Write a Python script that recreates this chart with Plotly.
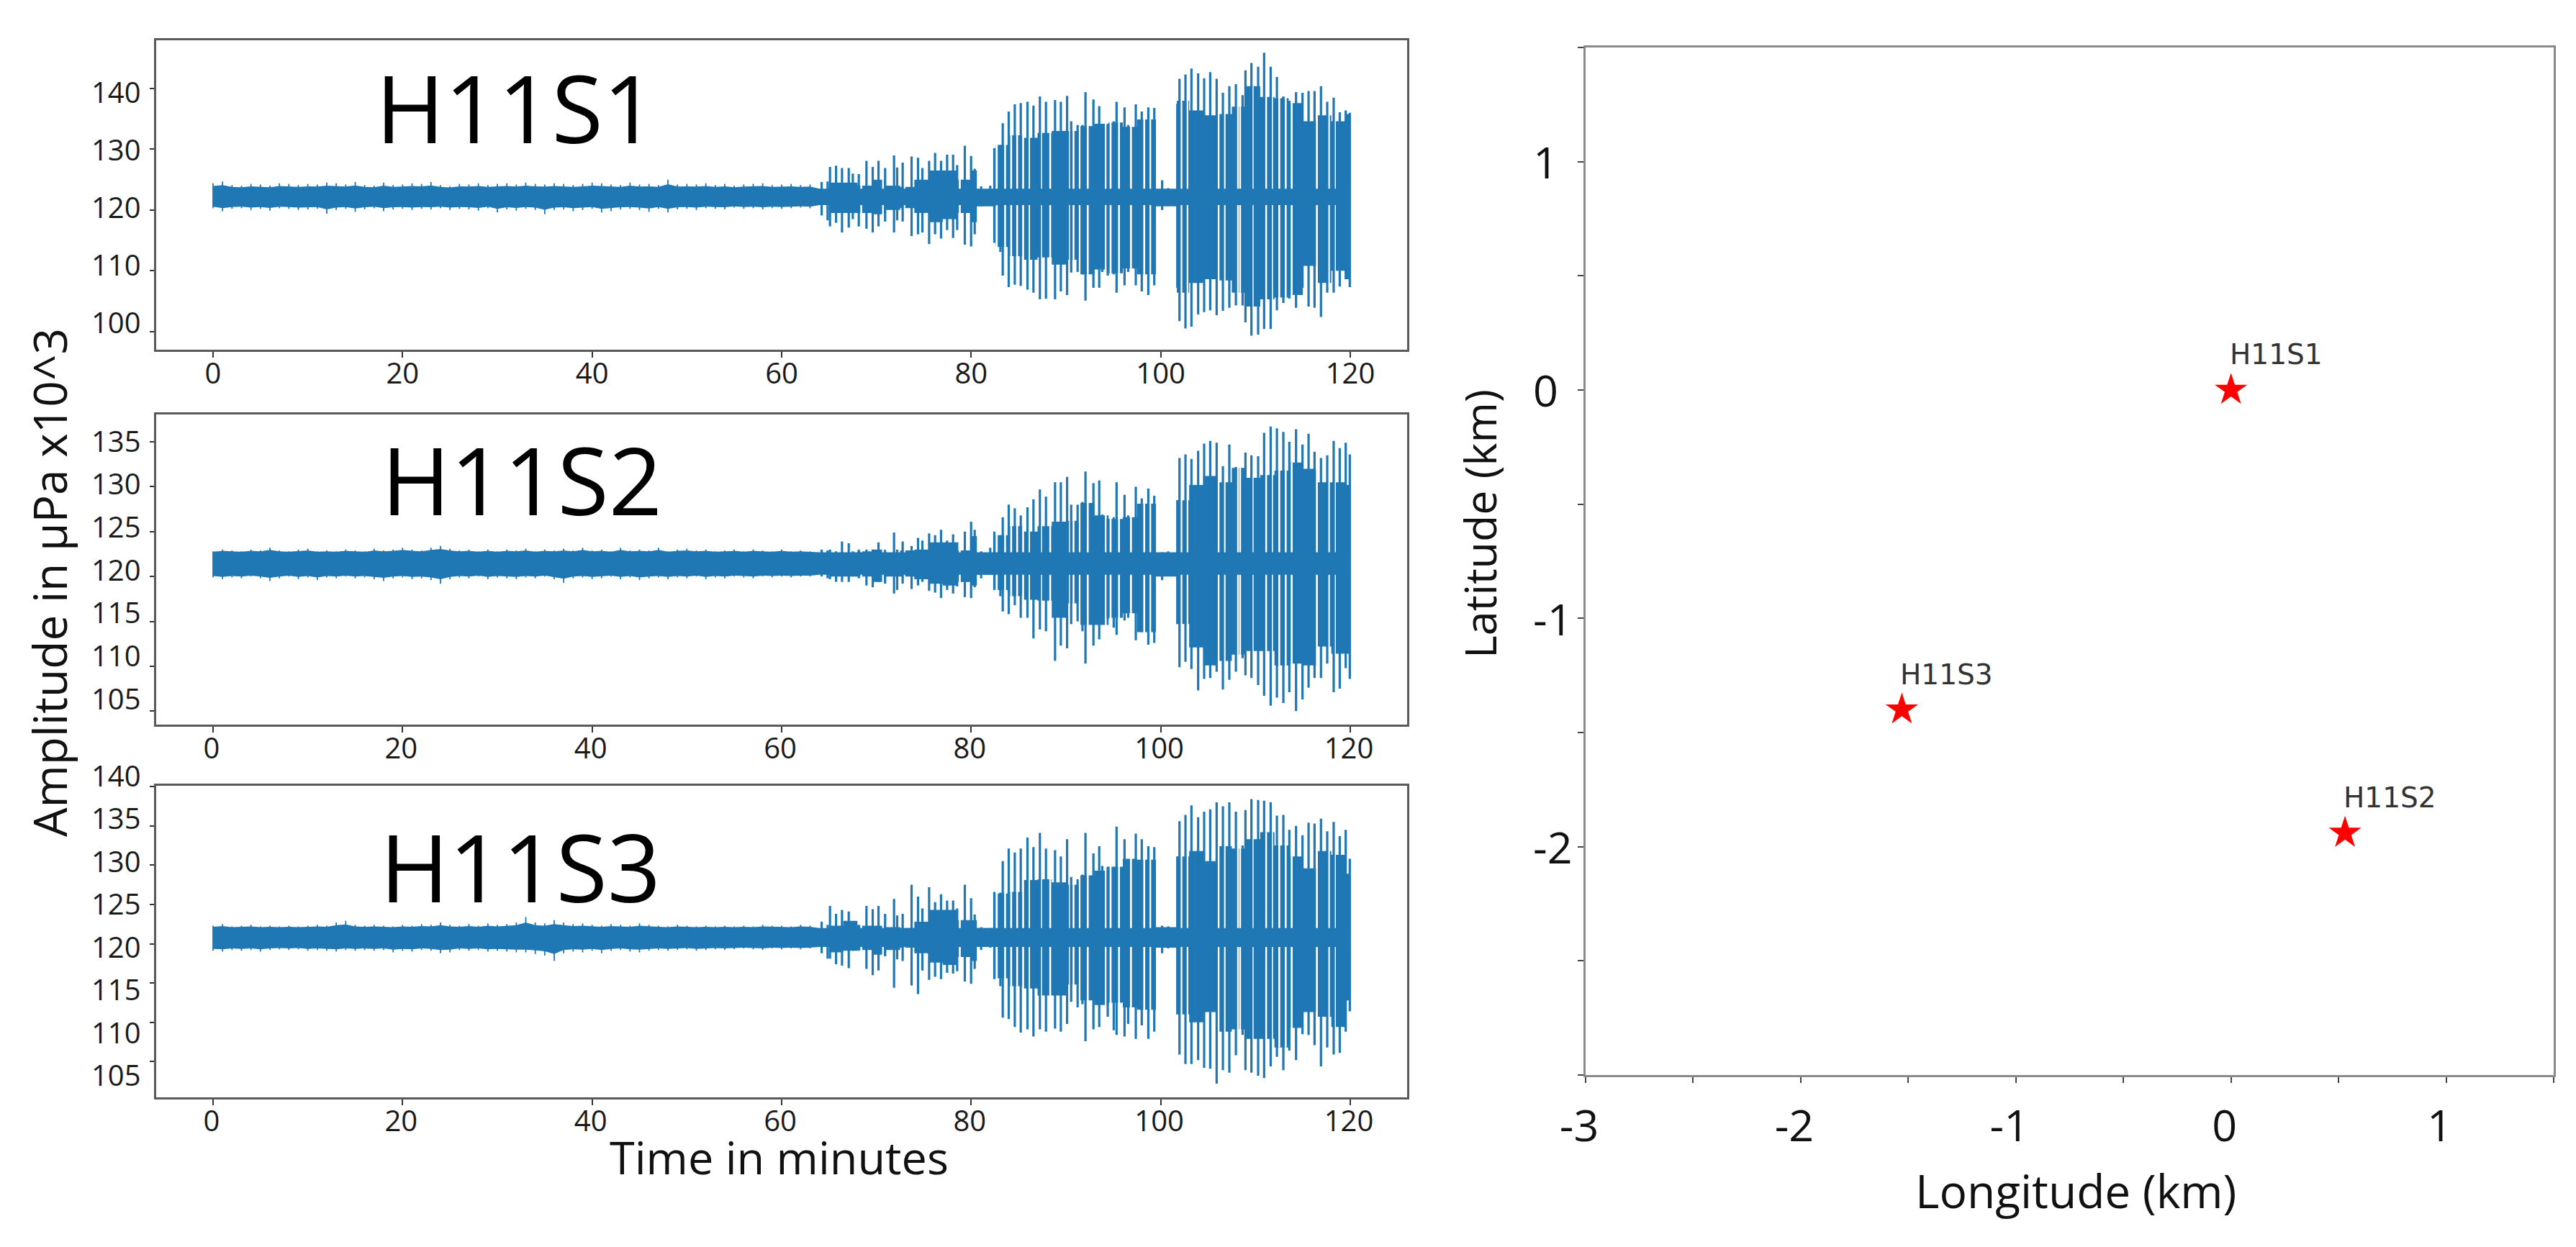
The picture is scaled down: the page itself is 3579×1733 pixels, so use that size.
import plotly.graph_objects as go

W, H = 3579, 1733
FONT = "Open Sans"
BLUE = "#1f77b4"

# ---- Shared time bases (minutes) ----
spike_t = [64.22,64.85,65.10,65.74,66.37,67.08,67.51,68.14,68.95,69.61,70.22,70.92,71.86,72.19,72.77,73.71,74.39,74.85,75.56,76.19,
           76.82,77.46,78.09,78.52,79.33,79.99,80.37,81.05,82.01,82.44,83.08,83.33,83.96,84.60,85.23,85.94,86.57,87.25,87.89,88.85,
           89.46,90.12,90.55,91.23,91.74,92.06,92.90,93.51,93.83,94.41,95.04,95.34,96.18,96.56,97.37,98.00,98.69,99.32,100.15,100.79,
           101.75,101.98,102.61,103.24,103.95,104.58,105.22,105.90,106.56,107.24,107.93,108.64,108.94,109.57,110.28,110.91,111.60,112.26,112.94,113.57,
           114.28,114.96,115.60,116.23,116.91,117.57,118.25,118.89,119.52,119.95]
block_t = [65.0,66.5,68.0,69.5,71.0,72.5,74.0,75.5,77.0,78.5,80.0,80.6,82.6,84.0,85.5,87.0,88.5,90.0,91.5,93.0,94.5,96.0,97.5,99.5,
           101.7,103.0,104.5,106.0,107.5,109.0,110.5,112.0,113.5,115.0,116.5,118.0,119.5,120.0]
gap_t = [68.4,70.7,72.95,78.8,82.70,83.58,84.22,84.85,85.48,86.11,87.38,88.34,90.42,90.80,91.43,92.30,94.20,94.71,95.60,96.86,98.26,98.89,
         102.18,102.81,106.10,106.74,108.13,108.38,109.70,111.12,111.75,112.51,113.19,113.82,116.48,117.75,118.38]
quiet_t = list(range(0, 64))

# ---- H11S1 ----
s1_peak_hi = [124.6,124.7,127.1,127.3,126.9,126.9,126.0,125.9,128.1,127.1,128.1,126.9,129.0,127.0,127.8,128.8,128.6,126.9,128.1,129.4,
              128.1,129.1,129.1,127.4,130.6,128.9,126.8,123.9,124.0,130.2,130.7,134.3,136.2,137.4,137.6,137.8,137.2,138.7,137.8,138.1,
              137.8,138.8,134.6,134.0,134.0,139.4,138.2,137.1,133.7,134.0,134.6,137.8,136.9,134.0,137.4,136.2,136.9,136.8,124.9,123.6,
              137.5,141.6,142.3,143.3,142.5,141.7,142.7,141.6,139.3,140.4,140.7,138.9,143.0,144.2,143.6,145.9,143.6,141.9,138.7,138.0,
              139.4,139.3,139.6,139.6,140.4,137.8,138.5,136.1,136.4,136.0]
s1_peak_lo = [119.1,118.3,117.3,117.9,116.3,117.1,118.5,117.3,116.9,116.3,117.3,118.1,116.3,118.3,118.1,115.7,116.0,116.3,114.4,116.0,
              115.3,116.7,115.4,116.7,114.3,114.0,116.0,120.6,120.8,114.6,113.1,109.2,107.3,107.7,107.5,106.9,106.4,105.3,105.4,105.3,
              106.6,106.0,109.7,109.8,109.4,105.1,107.2,107.2,109.8,109.2,109.4,106.4,107.6,109.8,107.6,106.6,106.0,107.6,120.0,121.0,
              107.2,101.7,100.5,100.8,102.8,103.2,103.5,102.7,103.4,103.9,104.3,104.3,101.5,99.3,99.5,100.4,100.4,103.5,104.7,105.4,
              103.9,107.2,104.1,103.9,102.4,106.4,106.4,107.4,108.6,107.3]
s1_block_hi = [124.5,124.5,124.0,125.0,124.0,123.8,125.0,126.5,126.5,125.0,126.5,123.4,130.7,132.3,131.9,132.7,133.0,133.0,133.8,134.2,134.4,133.7,134.9,123.4,
               138.0,136.4,135.6,135.8,137.0,140.4,138.6,138.4,137.6,134.6,135.6,134.6,135.8,135.8]
s1_block_lo = [119.5,119.5,119.5,119.3,120.0,120.3,119.5,118.0,118.5,119.5,118.0,120.6,113.9,112.4,111.8,112.2,111.0,111.8,109.4,110.2,109.6,110.4,109.4,120.6,
               106.4,108.0,108.6,108.4,106.4,104.1,105.3,105.6,106.0,110.8,108.0,110.0,108.6,108.6]
s1_quiet_hi = [124.4,124.7,124.1,124.0,124.3,124.2,124.0,124.4,124.3,124.1,124.3,124.2,124.5,124.4,124.2,124.6,124.1,124.0,124.5,124.1,
               124.2,124.4,124.3,124.6,124.1,123.9,124.3,124.2,124.4,124.1,124.3,124.4,124.2,124.5,124.3,124.2,124.4,124.3,124.1,124.3,
               124.5,124.4,124.2,124.1,124.5,124.2,124.3,124.1,125.0,124.2,124.3,124.2,124.4,124.1,124.3,124.0,124.2,124.3,124.4,124.1,
               124.2,124.3,124.1,124.2]
s1_quiet_lo = [120.3,119.8,120.2,120.3,120.0,120.2,119.9,120.3,120.2,120.0,120.1,120.2,119.4,120.0,120.2,119.7,120.1,120.3,119.8,120.1,
               120.2,120.0,120.2,120.1,120.3,120.0,120.2,120.1,119.9,120.3,119.6,120.1,119.9,120.2,120.0,119.3,120.0,120.1,119.8,120.0,
               120.2,119.6,119.8,120.1,120.2,120.0,119.7,120.2,119.6,120.1,120.2,120.0,120.3,120.2,120.1,120.4,120.2,120.3,120.1,120.3,
               120.2,120.3,120.4,120.3]

# ---- H11S2 ----
s2_peak_hi = [123.0,122.9,123.0,122.8,123.9,123.7,122.8,123.0,123.0,123.0,123.8,122.8,124.9,123.0,123.9,123.4,124.3,124.0,124.8,124.6,
              125.2,124.0,124.7,123.8,125.0,126.1,125.2,122.8,123.2,125.0,124.6,126.6,128.0,127.6,126.8,127.7,128.6,129.7,128.9,130.5,
              130.5,131.1,128.0,128.0,128.3,131.7,130.4,130.7,126.9,126.4,126.6,130.5,129.1,126.8,130.0,128.7,129.8,129.0,122.7,122.8,
              128.5,133.2,133.6,133.1,134.0,134.8,135.1,134.9,132.3,134.7,132.2,130.9,133.8,133.5,133.4,136.0,136.7,136.5,136.1,135.0,
              136.4,134.7,135.9,133.9,133.2,133.5,135.1,134.3,134.9,133.6]
s2_peak_lo = [120.0,119.8,119.7,119.4,119.4,119.4,120.0,119.8,119.0,118.8,119.4,119.2,118.1,118.5,119.2,118.6,119.0,119.4,118.4,118.2,
              117.6,118.5,118.1,118.9,117.7,117.6,118.8,119.8,120.2,118.5,117.8,116.1,115.8,116.8,115.4,115.4,113.1,114.1,113.9,110.6,
              112.3,112.0,114.7,115.0,113.9,110.3,112.3,113.0,116.8,115.3,114.3,113.5,115.1,115.4,112.9,113.8,112.4,112.6,119.6,120.1,
              114.7,109.9,110.5,109.7,107.3,108.6,108.7,109.4,107.4,108.5,109.4,110.9,109.0,108.7,107.9,106.7,105.6,106.5,105.9,107.1,
              105.0,106.3,107.6,108.7,108.7,110.3,107.1,107.5,109.8,108.6]
s2_block_hi = [122.5,122.6,122.8,123.0,122.6,122.9,123.0,123.8,123.8,122.9,124.5,122.4,124.6,125.6,125.0,125.6,126.1,126.2,128.2,126.8,126.4,126.6,128.1,122.6,
               128.5,130.2,131.2,130.5,132.1,131.0,131.3,131.8,132.7,132.0,130.5,130.5,130.2,130.2]
s2_block_lo = [120.0,120.0,120.0,119.4,120.0,120.0,119.7,119.2,119.0,119.4,119.0,120.2,118.5,117.8,117.4,117.3,115.4,117.0,114.6,114.6,115.4,115.9,113.8,120.0,
               114.7,112.1,110.1,110.6,111.3,111.7,111.7,110.1,110.3,110.1,112.2,111.4,111.4,111.4]
s2_quiet_hi = [122.8,123.0,122.9,122.8,123.0,122.9,123.2,122.9,122.8,123.0,123.1,122.8,122.9,122.8,123.0,122.9,122.8,123.1,122.9,123.0,
               123.2,123.0,122.9,123.2,123.4,123.1,122.9,123.0,122.8,123.0,122.8,123.0,122.9,123.1,122.8,123.0,122.9,123.1,122.9,123.2,
               122.9,123.0,122.8,123.2,122.9,123.0,122.9,123.2,122.8,123.0,123.1,122.9,123.0,122.8,122.9,123.0,122.8,123.0,122.9,122.8,
               123.0,122.8,122.9,122.8]
s2_quiet_lo = [119.9,119.7,119.9,119.8,120.0,119.8,119.5,119.8,120.0,119.7,119.9,119.6,119.9,119.8,120.0,119.8,119.9,119.7,119.5,119.8,
               119.9,119.7,119.8,119.6,119.2,119.7,119.9,119.8,120.0,119.7,119.9,119.8,119.7,119.9,119.8,120.0,119.7,119.3,119.8,119.9,
               119.7,119.8,120.0,119.7,119.9,119.6,119.8,119.9,119.7,119.9,119.8,120.0,119.7,119.9,119.8,120.0,119.9,119.8,120.0,119.9,
               120.0,119.9,120.0,120.0]

# ---- H11S3 ----
s3_peak_hi = [122.8,122.4,124.8,123.8,124.3,124.1,122.6,122.4,124.8,124.4,124.8,123.8,125.7,123.6,123.8,127.5,126.0,124.5,127.2,125.3,
              126.3,125.5,125.5,124.5,127.5,125.8,123.7,122.1,122.0,126.6,126.5,130.5,132.1,131.6,132.1,133.5,132.3,134.1,132.1,131.9,
              131.1,133.3,128.5,128.2,128.8,134.1,131.5,132.4,129.9,129.8,129.3,134.9,133.3,130.5,134.0,133.3,132.4,132.3,122.3,122.2,
              131.1,135.6,136.4,137.6,136.1,136.8,137.1,138.0,137.5,138.0,136.8,132.5,137.0,138.4,138.3,138.2,138.0,136.3,136.4,134.5,
              135.0,133.8,135.4,135.3,135.9,134.3,135.5,133.7,134.5,130.8]
s3_peak_lo = [118.8,118.1,118.1,117.4,117.2,116.9,119.1,119.1,116.8,116.0,116.6,118.4,114.4,118.0,117.8,114.7,113.6,116.6,115.4,115.8,
              115.5,116.3,116.2,116.5,115.2,114.9,116.8,119.2,119.5,115.5,114.6,110.6,110.4,109.4,108.7,109.1,108.2,109.1,108.8,109.2,
              108.8,109.8,112.6,111.9,112.3,107.6,109.1,109.4,112.4,110.7,109.0,108.4,108.2,109.8,107.9,109.6,107.9,108.8,118.8,119.4,
              111.0,105.9,104.7,104.7,105.2,104.2,104.1,102.2,103.9,103.6,105.8,108.4,103.9,103.6,103.2,102.9,104.4,105.6,103.9,106.4,
              105.2,108.5,108.4,107.1,104.4,106.8,105.9,106.1,108.8,111.4]
s3_block_hi = [122.3,122.9,122.3,122.3,122.1,122.0,122.8,124.3,124.3,123.0,123.0,122.0,126.4,126.6,128.1,128.2,127.8,127.5,128.7,129.3,129.8,130.8,130.7,122.1,
               131.1,131.8,130.5,132.4,132.1,133.3,134.2,132.5,131.1,129.6,131.8,131.3,128.9,128.9]
s3_block_lo = [118.9,119.1,119.2,118.6,119.2,119.5,118.8,117.6,117.3,118.3,117.8,119.7,115.6,114.6,114.3,113.4,113.4,114.8,112.8,112.2,112.5,111.9,111.6,119.5,
               111.0,110.0,111.3,108.8,109.1,107.9,107.9,106.8,109.3,111.3,110.7,109.4,112.8,112.8]
s3_quiet_hi = [122.3,122.5,122.2,122.3,122.4,122.2,122.3,122.2,122.3,122.2,122.3,122.4,122.3,122.7,122.9,122.4,122.3,122.4,122.3,122.2,
               122.4,122.3,122.5,122.4,122.7,122.4,122.3,122.5,122.3,122.6,122.4,122.5,122.7,123.4,122.7,122.6,123.0,122.7,122.5,122.6,
               122.4,122.3,122.5,122.4,122.3,122.6,122.4,122.3,122.2,122.4,122.3,122.2,122.3,122.2,122.3,122.2,122.3,122.2,122.4,122.3,
               122.3,122.2,122.4,122.3]
s3_quiet_lo = [119.1,119.0,119.2,119.1,119.2,119.0,119.2,119.3,119.2,119.3,119.1,119.2,119.1,119.0,119.2,119.1,119.2,119.1,119.2,118.9,
               119.1,119.0,119.2,119.1,118.8,118.9,119.2,119.1,119.2,119.0,119.1,119.0,118.9,118.9,118.7,118.5,117.8,118.8,119.0,118.9,
               119.1,118.8,119.1,119.2,119.0,118.9,119.1,119.2,119.1,119.2,119.3,119.1,119.2,119.3,119.2,119.3,119.4,119.3,119.2,119.4,
               119.3,119.4,119.3,119.4]

station_names = ["H11S1", "H11S2", "H11S3"]
core_hi = [123.5, 122.7, 122.0]
core_lo = [120.8, 120.2, 119.6]
peak_hi = [s1_peak_hi, s2_peak_hi, s3_peak_hi]
peak_lo = [s1_peak_lo, s2_peak_lo, s3_peak_lo]
block_hi = [s1_block_hi, s2_block_hi, s3_block_hi]
block_lo = [s1_block_lo, s2_block_lo, s3_block_lo]
quiet_hi = [s1_quiet_hi, s2_quiet_hi, s3_quiet_hi]
quiet_lo = [s1_quiet_lo, s2_quiet_lo, s3_quiet_lo]

y_ticks = [[100,110,120,130,140], [105,110,115,120,125,130,135], [105,110,115,120,125,130,135,140]]
x_ticks = [0,20,40,60,80,100,120]

# ---- Map ----
map_lon = [0.0, 0.53, -1.53]
map_lat = [0.0, -1.94, -1.40]
map_ticks = [-3,-2.5,-2,-1.5,-1,-0.5,0,0.5,1,1.5]
map_x_text = ["-3","","-2","","-1","","0","","1",""]
map_y_labels = [-2,-1,0,1]

# ---- Layout geometry (pixels in the page) ----
panel_box = [(55.5, 486), (576, 1007), (1092, 1524.5)]
panel_left, panel_right = 217, 1955
y_ranges = [[97.0, 148.0], [103.5, 138.05], [100.5, 140.1]]
x_range = [-6, 126]
label_px = [(447, 128), (970, 612), (1493.5, 1077)]   # centre of lowest / highest tick label
title_px = [(717, 148), (725, 666), (723, 1203)]
x_label_shift = [0, -2, -2]
map_box = (2203, 3548, 66, 1494)

def px_x(v): return v / W
def px_y(v): return 1 - v / H

def steps(ts, vals):
    xs, ys = [], []
    for k in range(len(ts) - 1):
        xs += [ts[k], ts[k + 1]]
        ys += [vals[k], vals[k]]
    return xs, ys

fig = go.Figure()
ann = []
FRAME = "#5a5a5a"

for i in range(3):
    xa = "x" if i == 0 else f"x{i+1}"
    ya = "y" if i == 0 else f"y{i+1}"
    # solid blocks of the bursts
    ux, uy = steps(block_t, block_hi[i])
    lx, ly = steps(block_t, block_lo[i])
    fig.add_trace(go.Scatter(x=ux + lx[::-1], y=uy + ly[::-1], xaxis=xa, yaxis=ya, mode="lines", fill="toself", fillcolor=BLUE,
                             line=dict(color=BLUE, width=0), hoverinfo="skip", showlegend=False))
    # quiet slits between bursts
    gx, gy = [], []
    top, bot = max(block_hi[i]), min(block_lo[i])
    for t in gap_t:
        gx += [t, t, None]; gy += [bot, top, None]
    fig.add_trace(go.Scatter(x=gx, y=gy, xaxis=xa, yaxis=ya, mode="lines", line=dict(color="white", width=2.6),
                             hoverinfo="skip", showlegend=False))
    # individual peaks of the active part
    sx, sy = [], []
    for t, a, b in zip(spike_t, peak_hi[i], peak_lo[i]):
        sx += [t, t, None]; sy += [a, b, None]
    fig.add_trace(go.Scatter(x=sx, y=sy, xaxis=xa, yaxis=ya, mode="lines", line=dict(color=BLUE, width=3.2),
                             name=station_names[i], showlegend=False))
    # whiskers of the quiet part
    qx, qy = [], []
    for t, a, b in zip(quiet_t, quiet_hi[i], quiet_lo[i]):
        qx += [t, t, None]; qy += [a, b, None]
    fig.add_trace(go.Scatter(x=qx, y=qy, xaxis=xa, yaxis=ya, mode="lines", line=dict(color=BLUE, width=1.8),
                             hoverinfo="skip", showlegend=False))
    # continuous band, with a rough edge in the quiet part
    edge_hi = [(v + core_hi[i]) / 2 for v in quiet_hi[i]]
    edge_lo = [(v + core_lo[i]) / 2 for v in quiet_lo[i]]
    cx = quiet_t + [64, 120, 120, 64] + quiet_t[::-1]
    cy = edge_hi + [core_hi[i], core_hi[i], core_lo[i], core_lo[i]] + edge_lo[::-1]
    fig.add_trace(go.Scatter(x=cx, y=cy, xaxis=xa, yaxis=ya, mode="lines", fill="toself", fillcolor=BLUE,
                             line=dict(color=BLUE, width=0), hoverinfo="skip", showlegend=False))

    top_px, bot_px = panel_box[i]
    fig.layout[f"xaxis{'' if i==0 else i+1}"] = dict(
        domain=[px_x(panel_left), px_x(panel_right)], range=x_range, anchor=ya, automargin=False,
        tickmode="array", tickvals=x_ticks, ticktext=[str(v) for v in x_ticks],
        ticks="outside", ticklen=8, tickwidth=2, tickcolor="#333",
        ticklabelshift=x_label_shift[i], ticklabelstandoff=-12,
        showgrid=False, zeroline=False, showline=True, mirror=True, linecolor=FRAME, linewidth=3,
        tickfont=dict(family=FONT, size=40, color="#1a1a1a"))
    fig.layout[f"yaxis{'' if i==0 else i+1}"] = dict(
        domain=[px_y(bot_px), px_y(top_px)], range=y_ranges[i], anchor=xa, automargin=False,
        tickmode="array", tickvals=y_ticks[i], showticklabels=False,
        ticks="outside", ticklen=6, tickwidth=2, tickcolor="#333",
        showgrid=False, zeroline=False, showline=True, mirror=True, linecolor=FRAME, linewidth=2.5)
    # tick labels sit slightly apart from their tick marks in the source figure
    lo_px, hi_px = label_px[i]
    tv = y_ticks[i]
    for v in tv:
        p = lo_px + (hi_px - lo_px) * (v - tv[0]) / (tv[-1] - tv[0])
        ann.append(dict(xref="paper", yref="paper", x=px_x(198), y=px_y(p), xanchor="right", yanchor="middle",
                        text=str(v), showarrow=False, font=dict(family=FONT, size=40, color="#1a1a1a")))
    tx, ty = title_px[i]
    ann.append(dict(xref="paper", yref="paper", x=px_x(tx), y=px_y(ty), xanchor="center", yanchor="middle",
                    text=station_names[i], showarrow=False, font=dict(family=FONT, size=130, color="black")))

# map panel
fig.add_trace(go.Scatter(x=map_lon, y=map_lat, xaxis="x4", yaxis="y4", mode="markers",
                         marker=dict(symbol="star", color="red", size=34, line=dict(width=0)), showlegend=False))
for name, lon, lat in zip(station_names, map_lon, map_lat):
    ann.append(dict(xref="x4", yref="y4", x=lon, y=lat, xshift=-4, yshift=49, xanchor="left", yanchor="middle",
                    text=name, showarrow=False, font=dict(family="DejaVu Sans", size=39, color="#333333")))
# the source aligns these labels on their left edge
for v in map_y_labels:
    ann.append(dict(xref="paper", yref="y4", x=px_x(2128), y=v, xanchor="left", yanchor="middle",
                    text=str(v), showarrow=False, font=dict(family=FONT, size=61, color="#111111")))

ml, mr, mt, mb = map_box
MAPLINE = "#8a8a8a"
fig.layout["xaxis4"] = dict(domain=[px_x(ml), px_x(mr)], range=[-3, 1.5], anchor="y4", automargin=False,
    tickmode="array", tickvals=map_ticks, ticktext=map_x_text, ticks="outside", ticklen=8, tickwidth=2, tickcolor="#444",
    ticklabelshift=-9, ticklabelstandoff=8,
    showgrid=False, zeroline=False, showline=True, mirror=True, linecolor=MAPLINE, linewidth=2.5,
    tickfont=dict(family=FONT, size=61, color="#111111"))
fig.layout["yaxis4"] = dict(domain=[px_y(mb), px_y(mt)], range=[-3, 1.5], anchor="x4", automargin=False,
    tickmode="array", tickvals=map_ticks, showticklabels=False, ticks="outside", ticklen=8, tickwidth=2, tickcolor="#444",
    showgrid=False, zeroline=False, showline=True, mirror=True, linecolor=MAPLINE, linewidth=2.5)

# shared and axis titles
ann += [
    dict(xref="paper", yref="paper", x=px_x(68), y=px_y(810), xanchor="center", yanchor="middle", textangle=-90,
         text="Amplitude in µPa x10^3", showarrow=False, font=dict(family=FONT, size=64, color="#111111")),
    dict(xref="paper", yref="paper", x=px_x(1082), y=px_y(1607), xanchor="center", yanchor="middle",
         text="Time in minutes", showarrow=False, font=dict(family=FONT, size=63, color="#111111")),
    dict(xref="paper", yref="paper", x=px_x(2055), y=px_y(728), xanchor="center", yanchor="middle", textangle=-90,
         text="Latitude (km)", showarrow=False, font=dict(family=FONT, size=61, color="#111111")),
    dict(xref="paper", yref="paper", x=px_x(2884), y=px_y(1654), xanchor="center", yanchor="middle",
         text="Longitude (km)", showarrow=False, font=dict(family=FONT, size=64, color="#111111")),
]

fig.update_layout(width=W, height=H, margin=dict(l=0, r=0, t=0, b=0, autoexpand=False), paper_bgcolor="white", plot_bgcolor="white",
                  showlegend=False, annotations=ann)
fig.write_html("out.html", config={"displayModeBar": False}, post_script="document.body.style.margin='0';")
